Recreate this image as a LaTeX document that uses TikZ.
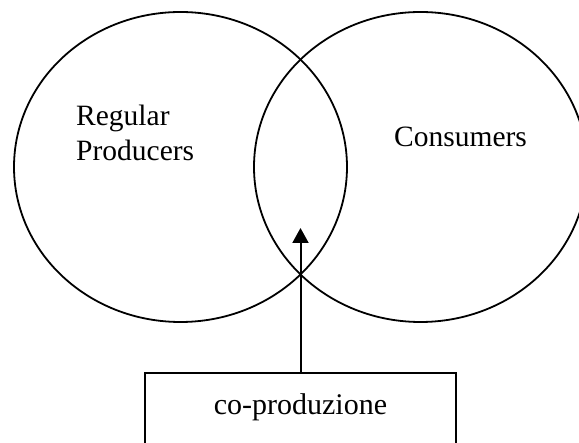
\documentclass[tikz,border=0pt]{standalone}
\usepackage{fontspec}
\setmainfont{Liberation Serif}
\usetikzlibrary{shapes.geometric, arrows.meta, positioning}

\tikzset{
  set/.style={ellipse, draw, line width=1.8pt, minimum width=333pt, minimum height=310pt},
  lbl/.style={inner sep=0pt, font=\fontsize{29.5}{34}\selectfont},
  kind/.style={draw, line width=1.8pt, minimum width=311pt, inner xsep=0pt,
    inner ysep=21pt, text height=21pt, text depth=40pt, anchor=north,
    font=\fontsize{30}{34}\selectfont}
}

\begin{document}
\begin{tikzpicture}[x=1pt,y=-1pt]
  \useasboundingbox (0,0) rectangle (579,443);
  \clip (0,0) rectangle (579,443);

  \node[set] (prod) at (180.5,167) {};
  \node[set] (cons) at (420.5,167) {};

  \node[lbl, anchor=base west] (regular) at (76,126) {Regular};
  \node[lbl, anchor=base west] (producers) at (76,161) {Producers};
  \node[lbl, anchor=base west] (consumers) at (394,147) {Consumers};

  \node[kind] (copro) at (300.5,372) {co-produzione};
  \coordinate (tip) at (300.5,228);

  \draw[line width=2pt, -{Triangle[length=15pt,width=16pt]}] (copro.north) -- (tip);
\end{tikzpicture}
\end{document}
